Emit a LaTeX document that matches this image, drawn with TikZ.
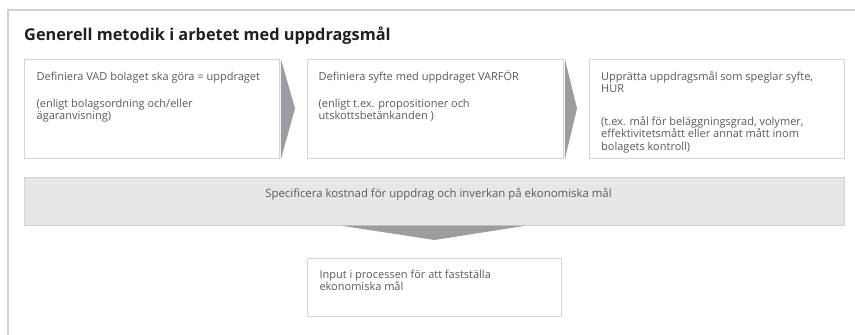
\documentclass[tikz,border=0pt]{standalone}
\usepackage{fontspec}
\setmainfont{Open Sans}
\definecolor{framegray}{HTML}{D0D1D2}
\definecolor{boxline}{HTML}{D4D5D6}
\definecolor{barfill}{HTML}{E6E7E8}
\definecolor{barline}{HTML}{D2D3D4}
\definecolor{arrowgray}{HTML}{9C9DA0}
\definecolor{txtgray}{HTML}{5A5A5A}
\definecolor{titlecol}{HTML}{231F20}
\newcommand\tline[1]{\hbox{#1}}
\begin{document}
\begin{tikzpicture}[x=1pt,y=-1pt,
  stepbox/.style={draw=boxline,line width=1.3pt,fill=white,rectangle,inner sep=0pt,anchor=north west},
  barbox/.style={draw=barline,line width=1.3pt,fill=barfill,rectangle,inner sep=0pt,anchor=north west},
  txt/.style={inner sep=0pt,anchor=base west,text=txtgray,font=\fontsize{11}{12.5}\selectfont},
  chev/.style={fill=arrowgray}]
\useasboundingbox (0,0) rectangle (855,335);
% frame
\draw[framegray,line width=2.8pt] (8,335) -- (8,10) -- (855,10);
% title
\node[inner sep=0pt,anchor=base west,text=titlecol,font=\fontsize{16.3}{19}\selectfont\bfseries] (title) at (24,40) {Generell metodik i arbetet med uppdragsmål};
% boxes
\node[stepbox,minimum width=255pt,minimum height=99pt] (b1) at (24,59) {};
\node[stepbox,minimum width=256pt,minimum height=99pt] (b2) at (307,59) {};
\node[stepbox,minimum width=255pt,minimum height=99pt] (b3) at (589,59) {};
\node[barbox,minimum width=820pt,minimum height=48pt] (bar) at (24,177) {};
\node[stepbox,minimum width=254pt,minimum height=58pt] (b4) at (307,258) {};
% chevrons
\coordinate (p1) at (295,108.5);
\coordinate (p2) at (577,108.5);
\coordinate (dl) at (340,225.5);
\coordinate (dr) at (527,225.5);
\coordinate (dp) at (434.5,240);
\fill[chev] ([xshift=0.6pt]b1.north east) -- (p1) -- ([xshift=0.6pt]b1.south east) -- cycle;
\fill[chev] ([xshift=0.6pt]b2.north east) -- (p2) -- ([xshift=0.6pt]b2.south east) -- cycle;
\fill[chev] (dl) -- (dr) -- (dp) -- cycle;
% texts
\node[txt] (t1) at (36.5,80) {\vtop{\tline{Definiera VAD bolaget ska göra = uppdraget}\vskip14.8pt
  \tline{(enligt bolagsordning och/eller}\tline{ägaranvisning)}}};
\node[txt] (t2) at (318.5,80) {\vtop{\tline{Definiera syfte med uppdraget VARFÖR}\vskip14.8pt
  \tline{(enligt t.ex. propositioner och}\tline{utskottsbetänkanden )}}};
\node[txt] (t3) at (601,80) {\vtop{\tline{Upprätta uppdragsmål som speglar syfte,}\tline{HUR}\vskip20pt
  \tline{(t.ex. mål för beläggningsgrad, volymer,}\tline{effektivitetsmått eller annat mått inom}\tline{bolagets kontroll)}}};
\node[txt,anchor=base,font=\fontsize{11.4}{13}\selectfont] (tb) at (438.5,197) {Specificera kostnad för uppdrag och inverkan på ekonomiska mål};
\node[txt] (t4) at (319.3,278.3) {\vtop{\tline{Input i processen för att fastställa}\tline{ekonomiska mål}}};
\end{tikzpicture}
\end{document}
